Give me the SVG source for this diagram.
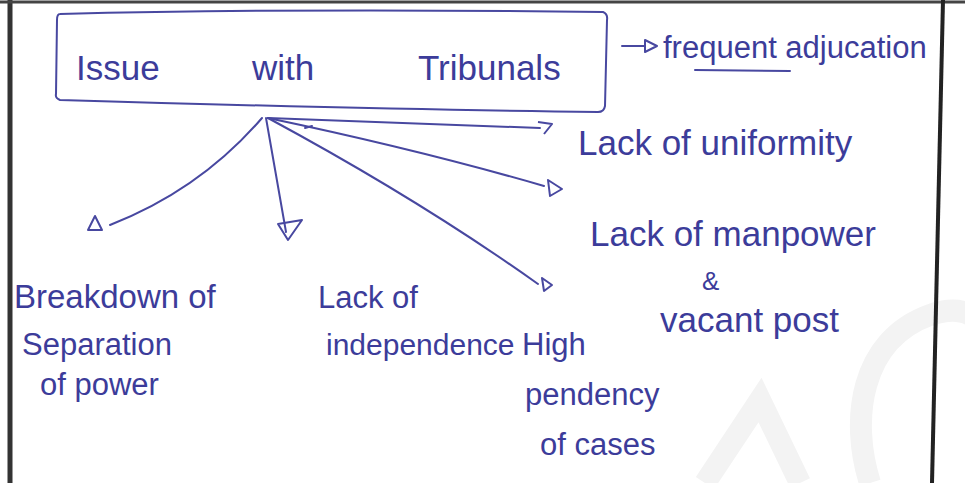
<svg xmlns="http://www.w3.org/2000/svg" width="965" height="483" viewBox="0 0 965 483">
<defs>
<style>
.t{font-family:"Liberation Sans",Arial,sans-serif;font-size:31px;fill:#3c3c9a;}
.l{font-size:35px;}
.c{fill:none;stroke:#4848a0;stroke-width:2;stroke-linecap:round;}
.h{fill:none;stroke:#4848a0;stroke-width:2;stroke-linejoin:round;}
.w{fill:none;stroke:#f3f3f3;stroke-width:22;}
</style>
</defs>
<rect x="0" y="0" width="965" height="483" fill="#ffffff"/>
<!-- watermark -->
<path class="w" d="M870 483 C850 420 860 340 930 315 C950 308 965 310 975 318"/>
<path class="w" d="M705 483 L760 400 L800 483"/>
<!-- page borders -->
<line x1="10" y1="0" x2="10" y2="483" stroke="#333" stroke-width="5"/>
<line x1="0" y1="2" x2="965" y2="2" stroke="#444" stroke-width="3"/>
<line x1="943" y1="0" x2="932" y2="483" stroke="#222" stroke-width="4"/>

<g id="root">
<path class="c" d="M60 14 Q300 8 603 12 Q608 14 607 20 L605 106 Q604 112 598 112 Q400 110 60 100 Q55 98 56 94 L57 20 Q57 14 60 14 Z"/>
<text class="t l" x="76" y="80">Issue</text>
<text class="t l" x="252" y="80">with</text>
<text class="t l" x="418" y="80">Tribunals</text>
</g>

<g id="frequent">
<line class="c" x1="622" y1="46" x2="645" y2="46"/>
<path class="h" d="M645 40 L657 46 L645 52 Z"/>
<text class="t" x="663" y="58" style="font-size:31px">frequent adjucation</text>
<line class="c" x1="695" y1="70" x2="790" y2="71"/>
</g>

<g id="uniformity"><text class="t" x="578" y="155" style="font-size:35px">Lack of uniformity</text></g>
<g id="manpower">
<text class="t" x="590" y="246" style="font-size:35px">Lack of manpower</text>
<text class="t" x="702" y="290" style="font-size:26px">&amp;</text>
<text class="t" x="660" y="332" style="font-size:35px">vacant post</text>
</g>
<g id="breakdown">
<text class="t" x="14" y="308" style="font-size:33px">Breakdown of</text>
<text class="t" x="22" y="355">Separation</text>
<text class="t" x="40" y="395">of power</text>
</g>
<g id="independence">
<text class="t" x="318" y="308">Lack of</text>
<text class="t" x="326" y="355" style="font-size:30px">independence</text>
</g>
<g id="pendency">
<text class="t" x="522" y="355">High</text>
<text class="t" x="525" y="405">pendency</text>
<text class="t" x="540" y="455">of cases</text>
</g>

<g id="connectors">
<path class="c" d="M262 118 Q200 190 110 225"/>
<path class="h" d="M88 230 L95 216 L102 230 Z"/>
<path class="c" d="M266 118 L286 232"/>
<path class="h" d="M278 224 L302 220 L288 240 Z"/>
<path class="c" d="M268 118 L540 128"/>
<path class="h" d="M538 122 L552 124 L544 134"/>
<path class="c" d="M268 118 Q420 150 544 186"/>
<path class="h" d="M548 180 L562 189 L550 196 Z"/>
<path class="c" d="M268 118 Q420 200 538 284"/>
<path class="h" d="M542 278 L552 285 L544 291 Z"/>
<line class="c" x1="305" y1="128" x2="312" y2="126"/>
</g>
</svg>
